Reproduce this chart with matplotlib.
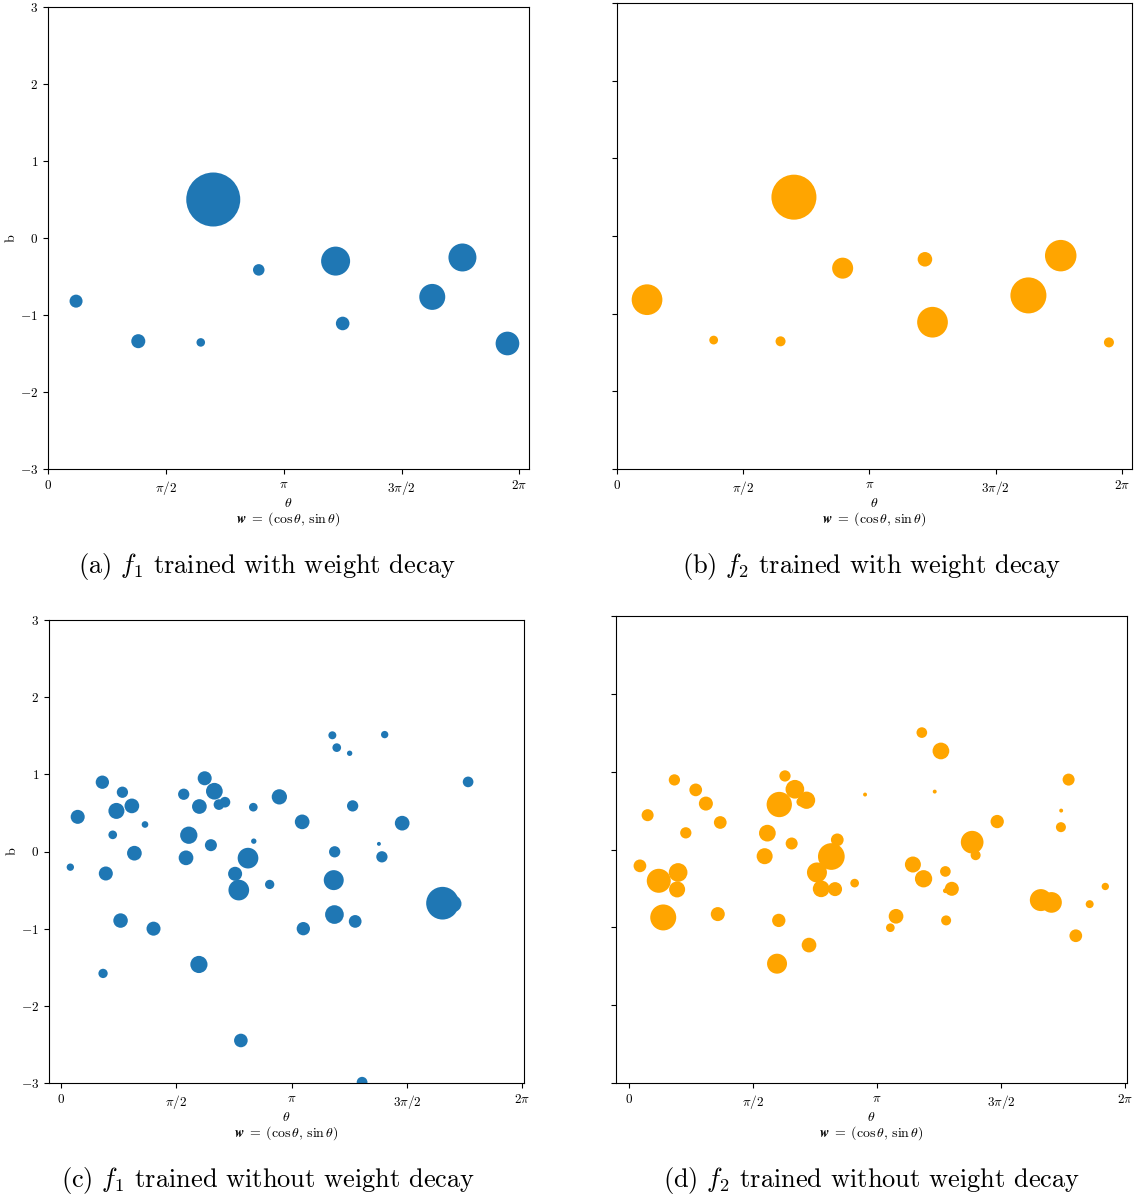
import numpy as np
import matplotlib
matplotlib.use('Agg')
import matplotlib.pyplot as plt
from matplotlib.mathtext import MathTextParser

plt.rcParams['font.family'] = 'serif'
plt.rcParams['font.serif'] = ['cmr10']
plt.rcParams['mathtext.fontset'] = 'cm'
plt.rcParams['axes.unicode_minus'] = False

# --- data: (a)/(b) with weight decay, same neurons, different output weights
theta_wd = np.pi * np.array([0.119, 0.383, 0.648, 0.701, 0.894, 1.220, 1.250, 1.630, 1.758, 1.949])
b_wd = np.array([-0.82, -1.34, -1.356, 0.50, -0.414, -0.30, -1.11, -0.765, -0.253, -1.37])
size_f1_wd = np.array([88, 102, 38, 1512, 69, 436, 96, 350, 406, 291])
size_f2_wd = np.array([489, 40, 52, 1050, 229, 110, 489, 672, 514, 52])

# --- (c) f1 without weight decay
theta_f1 = np.pi * np.array([
    0.040, 0.072, 0.179, 0.194, 0.266, 0.240, 0.307, 0.224, 0.364, 0.318,
    0.258, 0.401, 0.532, 0.623, 0.665, 0.600, 0.685, 0.711, 0.554, 0.542,
    0.650, 0.834, 0.836, 0.811, 0.755, 0.771, 0.905, 0.947, 1.046, 1.177,
    1.196, 1.252, 1.404, 1.766, 1.265, 1.480, 1.187, 1.379, 1.392, 1.183,
    1.186, 1.276, 1.051, 1.655, 1.701, 0.182, 0.598, 0.780, 1.306])
b_f1 = np.array([
    -0.203, 0.449, 0.898, -0.285, 0.768, 0.526, 0.591, 0.216, 0.350, -0.022,
    -0.895, -1.00, 0.742, 0.949, 0.781, 0.583, 0.608, 0.639, 0.211, -0.082,
    0.082, 0.574, 0.134, -0.086, -0.289, -0.500, -0.427, 0.708, 0.384, 1.506,
    1.346, 1.273, 1.515, 0.902, 0.591, 0.367, -0.004, 0.099, -0.069, -0.371,
    -0.817, -0.906, -1.00, -0.670, -0.677, -1.58, -1.464, -2.449, -2.99])
size_f1 = np.array([
    28, 102, 92, 102, 66, 133, 112, 39, 23, 112,
    109, 102, 66, 102, 145, 112, 59, 59, 155, 112,
    75, 39, 15, 222, 102, 222, 45, 121, 112, 33,
    39, 15, 28, 59, 66, 112, 66, 8, 66, 207,
    181, 84, 92, 554, 145, 45, 153, 96, 60])

# --- (d) f2 without weight decay
theta_f2 = np.pi * np.array([
    0.044, 0.075, 0.183, 0.269, 0.310, 0.368, 0.229, 0.120, 0.198, 0.194,
    0.138, 0.358, 0.629, 0.669, 0.716, 0.694, 0.606, 0.558, 0.656, 0.547,
    0.840, 0.816, 0.758, 0.775, 0.831, 0.910, 0.952, 0.604, 0.726, 0.597,
    1.077, 1.054, 1.181, 1.258, 1.233, 1.485, 1.773, 1.743, 1.742, 1.384,
    1.398, 1.145, 1.188, 1.276, 1.302, 1.276, 1.279, 1.661, 1.704, 1.921,
    1.858, 1.802])
b_f2 = np.array([
    -0.21, 0.441, 0.894, 0.766, 0.590, 0.347, 0.214, -0.402, -0.295, -0.513,
    -0.873, -0.830, 0.945, 0.774, 0.633, 0.612, 0.578, 0.210, 0.077, -0.086,
    0.124, -0.09, -0.295, -0.505, -0.509, -0.432, 0.706, -0.911, -1.228, -1.467,
    -0.858, -1.005, 1.502, 1.266, 0.744, 0.359, 0.898, 0.50, 0.287, 0.094,
    -0.073, -0.193, -0.376, -0.282, -0.505, -0.530, -0.911, -0.650, -0.680, -0.475,
    -0.702, -1.108])
size_f2 = np.array([
    84, 75, 66, 84, 102, 84, 66, 299, 181, 133,
    350, 102, 66, 181, 155, 45, 332, 145, 75, 133,
    84, 370, 207, 145, 102, 39, 8, 92, 112, 207,
    112, 39, 59, 145, 8, 92, 75, 8, 52, 267,
    52, 133, 155, 59, 102, 12, 52, 251, 222, 28,
    33, 84])

xtick_vals = np.pi * np.array([0, 0.5, 1, 1.5, 2])
xtick_labels = ['$0$', r'$\pi/2$', r'$\pi$', r'$3\pi/2$', r'$2\pi$']
ytick_vals = [-3, -2, -1, 0, 1, 2, 3]

captions = [r'(a) $f_1$ trained with weight decay',
            r'(b) $f_2$ trained with weight decay',
            r'(c) $f_1$ trained without weight decay',
            r'(d) $f_2$ trained without weight decay']

# bold italic w if this mathtext knows it, plain bold otherwise
w_sym = r'\mathbfit{w}'
try:
    MathTextParser('agg').parse('$' + w_sym + '$', dpi=100)
except Exception:
    w_sym = r'\mathbf{w}'
xlabel = '$\\theta$\n$' + w_sym + r'\;=\;(\cos\theta,\,\sin\theta)$'

W, H = 1134, 1199
fig = plt.figure(figsize=(W / 100, H / 100), dpi=100)


def px_axes(l, t, r, b):
    return fig.add_axes([l / W, 1 - b / H, (r - l) / W, (b - t) / H])


panels = [
    (px_axes(48, 7, 529, 469), theta_wd, b_wd, size_f1_wd, '#1f77b4', (0, 6.41), True),
    (px_axes(617, 3, 1132, 469), theta_wd, b_wd, size_f2_wd, 'orange', (0, 6.41), False),
    (px_axes(49, 620, 524, 1083), theta_f1, b_f1, size_f1, '#1f77b4', (-0.165, 6.31), True),
    (px_axes(616, 616, 1127, 1083), theta_f2, b_f2, size_f2, 'orange', (-0.165, 6.31), False),
]

for ax, th, bb, ss, col, xl, lab in panels:
    ax.scatter(th, bb, s=ss, c=col, linewidths=0)
    ax.set_xlim(*xl)
    ax.set_ylim(-3, 3)
    ax.set_xticks(xtick_vals)
    ax.set_xticklabels(xtick_labels, fontsize=9.5)
    ax.set_yticks(ytick_vals)
    if lab:
        ax.set_yticklabels([f'${v}$' for v in ytick_vals], fontsize=9.5)
        ax.set_ylabel('b', fontsize=10, labelpad=2)
    else:
        ax.set_yticklabels([])
    ax.set_xlabel(xlabel, fontsize=10, labelpad=0, linespacing=1.0)

fig.text(267 / W, 1 - 566 / H, captions[0], ha='center', va='center', fontsize=19)
fig.text(872 / W, 1 - 566 / H, captions[1], ha='center', va='center', fontsize=19)
fig.text(268 / W, 1 - 1180 / H, captions[2], ha='center', va='center', fontsize=19)
fig.text(872 / W, 1 - 1180 / H, captions[3], ha='center', va='center', fontsize=19)

fig.savefig('out.png', dpi=100)
